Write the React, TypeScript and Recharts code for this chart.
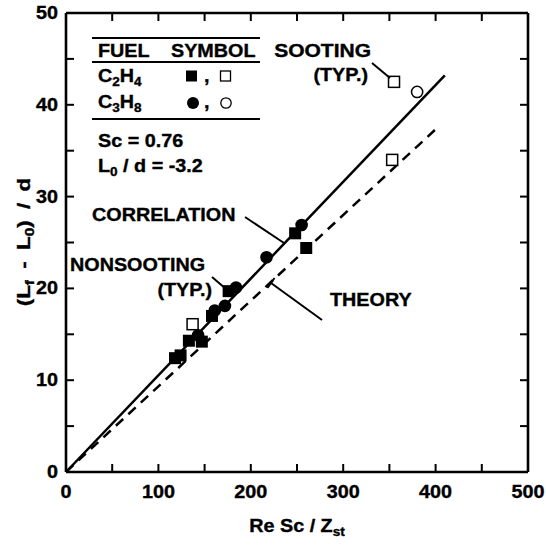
import React from 'react';
import { ScatterChart, Scatter, XAxis, YAxis, ReferenceLine } from 'recharts';

// Re Sc / Z_st vs (L_f - L_0)/d
const c2h4Nonsooting = [[118, 12.4], [124, 12.7], [133, 14.3], [147, 14.2], [158, 17.0], [176, 19.7], [248, 26.0], [260, 24.4]];
const c2h4Sooting = [[137, 16.1], [355, 42.5], [353, 34.0]];
const c3h8Nonsooting = [[143, 14.9], [161, 17.6], [172, 18.1], [184, 20.1], [217, 23.4], [255, 26.9]];
const c3h8Sooting = [[380, 41.4]];

// correlation and theory lines (end points)
const correlationLine = [[0, 0], [410, 43.2]];
const theoryLine = [[0, 0], [404, 37.7]];

const xTicks = [0, 50, 100, 150, 200, 250, 300, 350, 400, 450, 500];
const xLabels = [0, 100, 200, 300, 400, 500];
const yTicks = [0, 5, 10, 15, 20, 25, 30, 35, 40, 45, 50];
const yLabels = [0, 10, 20, 30, 40, 50];

const FONT = '"Liberation Sans", Arial, Helvetica, sans-serif';
const toPts = (arr: number[][]) => arr.map(([x, y]) => ({ x, y }));

function T({ x, y, anchor = 'start', size = 17.5, sx = 1.13, children, ...rest }: any) {
  return (
    <text
      transform={`translate(${x},${y}) scale(${sx},1)`}
      textAnchor={anchor}
      fontFamily={FONT}
      fontWeight="bold"
      fontSize={size}
      fill="#000"
      stroke="#000"
      strokeWidth={0.35}
      {...rest}
    >
      {children}
    </text>
  );
}

const SUB = 12;

const FilledSquare = (p: any) => <rect x={p.cx - 6} y={p.cy - 6} width={12} height={12} fill="#000" />;
const OpenSquare = (p: any) => (
  <rect x={p.cx - 5.5} y={p.cy - 5.5} width={11} height={11} fill="#fff" stroke="#000" strokeWidth={1.5} />
);
const FilledCircle = (p: any) => <circle cx={p.cx} cy={p.cy} r={6.3} fill="#000" />;
const OpenCircle = (p: any) => <circle cx={p.cx} cy={p.cy} r={5.6} fill="#fff" stroke="#000" strokeWidth={1.5} />;

const TICK = 8;

const BottomTick = ({ x, y, payload }: any) => (
  <g>
    <line x1={x} y1={y} x2={x} y2={y - TICK} stroke="#000" strokeWidth={2} />
    {xLabels.includes(payload.value) && <T x={x} y={y + 26} anchor="middle">{payload.value}</T>}
  </g>
);
const TopTick = ({ x, y }: any) => <line x1={x} y1={y} x2={x} y2={y + TICK} stroke="#000" strokeWidth={2} />;
const LeftTick = ({ x, y, payload }: any) => (
  <g>
    <line x1={x} y1={y} x2={x + TICK} y2={y} stroke="#000" strokeWidth={2} />
    {yLabels.includes(payload.value) && <T x={x - 8} y={y + 6} anchor="end">{payload.value}</T>}
  </g>
);
const RightTick = ({ x, y }: any) => <line x1={x} y1={y} x2={x - TICK} y2={y} stroke="#000" strokeWidth={2} />;

const frame = { stroke: '#000', strokeWidth: 2.6 };

function Annotations() {
  const line = { stroke: '#000', strokeWidth: 2 };
  return (
    <svg width={546} height={546} style={{ position: 'absolute', left: 0, top: 0, pointerEvents: 'none' }}>
      {/* fuel / symbol table */}
      <line x1={92} y1={38} x2={260} y2={38} {...line} />
      <T x={98} y={57}>FUEL</T>
      <T x={171} y={57}>SYMBOL</T>
      <line x1={92} y1={62} x2={260} y2={62} {...line} />
      <T x={98} y={82}>
        C<tspan fontSize={SUB} dy={4}>2</tspan>
        <tspan dy={-4}>H</tspan>
        <tspan fontSize={SUB} dy={4}>4</tspan>
      </T>
      <rect x={186} y={70.5} width={11} height={11} fill="#000" />
      <T x={204} y={82}>,</T>
      <rect x={220.5} y={71} width={10} height={10} fill="#fff" stroke="#000" strokeWidth={1.3} />
      <T x={98} y={108}>
        C<tspan fontSize={SUB} dy={4}>3</tspan>
        <tspan dy={-4}>H</tspan>
        <tspan fontSize={SUB} dy={4}>8</tspan>
      </T>
      <circle cx={193} cy={103} r={6} fill="#000" />
      <T x={204} y={108}>,</T>
      <circle cx={226} cy={103} r={5.2} fill="#fff" stroke="#000" strokeWidth={1.3} />
      <line x1={92} y1={119} x2={260} y2={119} {...line} />
      <T x={98} y={147}>Sc = 0.76</T>
      <T x={98} y={172}>
        L<tspan fontSize={SUB} dy={4}>0</tspan>
        <tspan dy={-4}> / d = -3.2</tspan>
      </T>

      {/* callouts */}
      <T x={371} y={57} anchor="end" sx={1.2}>SOOTING</T>
      <T x={368} y={81} anchor="end">(TYP.)</T>
      <line x1={372} y1={63} x2={390} y2={78} {...line} />

      <T x={92} y={221}>CORRELATION</T>
      <line x1={245} y1={217} x2={284} y2={243} {...line} />

      <T x={70} y={271}>NONSOOTING</T>
      <T x={212} y={296} anchor="end">(TYP.)</T>
      <line x1={212} y1={277} x2={226} y2={289} {...line} />

      <line x1={271} y1={283} x2={322} y2={320} {...line} />
      <line x1={267.5} y1={288} x2={274.5} y2={278} {...line} />
      <T x={330} y={306}>THEORY</T>

      {/* axis titles */}
      <T x={297} y={532} anchor="middle">
        Re Sc / Z<tspan fontSize={SUB} dy={4}>st</tspan>
      </T>
      <g transform="translate(30,242) rotate(-90)">
        <T x={0} y={0} anchor="middle" sx={1.28} style={{ wordSpacing: '4px' }}>
          (L<tspan fontSize={SUB} dy={4}>f</tspan>
          <tspan dy={-4}> - L</tspan>
          <tspan fontSize={SUB} dy={4}>0</tspan>
          <tspan dy={-4}>) / d</tspan>
        </T>
      </g>
    </svg>
  );
}

export default function App() {
  const seg = (l: number[][]) => l.map(([x, y]) => ({ x, y })) as any;
  return (
    <div style={{ position: 'absolute', left: 0, top: 0, width: 546, height: 546, background: '#fff' }}>
      <ScatterChart width={546} height={546} margin={{ top: 12, right: 17, bottom: 24, left: 8 }}>
        <XAxis
          xAxisId="b"
          type="number"
          dataKey="x"
          domain={[0, 500]}
          ticks={xTicks}
          interval={0}
          tickSize={0}
          tickMargin={0}
          height={50}
          axisLine={frame}
          tickLine={false}
          tick={<BottomTick />}
          allowDataOverflow
        />
        <XAxis
          xAxisId="t"
          orientation="top"
          type="number"
          dataKey="x"
          domain={[0, 500]}
          ticks={xTicks}
          interval={0}
          tickSize={0}
          tickMargin={0}
          height={1}
          axisLine={frame}
          tickLine={false}
          tick={<TopTick />}
          allowDataOverflow
        />
        <YAxis
          yAxisId="l"
          type="number"
          dataKey="y"
          domain={[0, 50]}
          ticks={yTicks}
          interval={0}
          tickSize={0}
          tickMargin={0}
          width={58}
          axisLine={frame}
          tickLine={false}
          tick={<LeftTick />}
          allowDataOverflow
        />
        <YAxis
          yAxisId="r"
          orientation="right"
          type="number"
          dataKey="y"
          domain={[0, 50]}
          ticks={yTicks}
          interval={0}
          tickSize={0}
          tickMargin={0}
          width={1}
          axisLine={frame}
          tickLine={false}
          tick={<RightTick />}
          allowDataOverflow
        />
        <ReferenceLine xAxisId="b" yAxisId="l" segment={seg(correlationLine)} stroke="#000" strokeWidth={2.5} ifOverflow="visible" />
        <ReferenceLine
          xAxisId="b"
          yAxisId="l"
          segment={seg(theoryLine)}
          stroke="#000"
          strokeWidth={2.5}
          strokeDasharray="10 7"
          ifOverflow="visible"
        />
        <Scatter xAxisId="b" yAxisId="l" data={toPts(c2h4Nonsooting)} shape={FilledSquare} isAnimationActive={false} />
        <Scatter xAxisId="b" yAxisId="l" data={toPts(c2h4Sooting)} shape={OpenSquare} isAnimationActive={false} />
        <Scatter xAxisId="b" yAxisId="l" data={toPts(c3h8Nonsooting)} shape={FilledCircle} isAnimationActive={false} />
        <Scatter xAxisId="b" yAxisId="l" data={toPts(c3h8Sooting)} shape={OpenCircle} isAnimationActive={false} />
        <Scatter xAxisId="t" yAxisId="r" data={[]} isAnimationActive={false} />
      </ScatterChart>
      <Annotations />
    </div>
  );
}
